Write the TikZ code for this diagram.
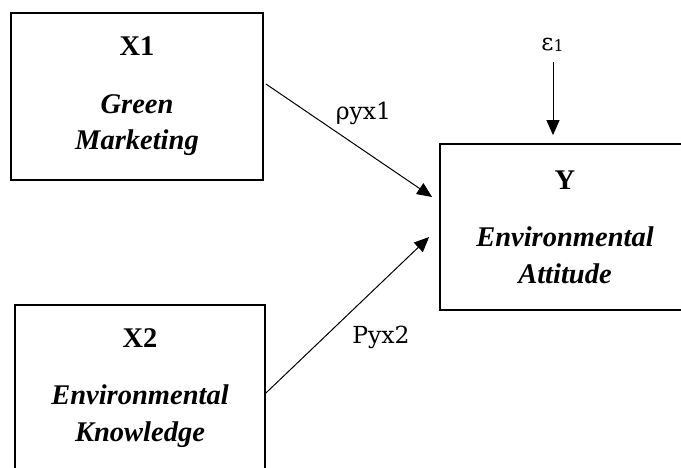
\documentclass[tikz,border=0pt]{standalone}
\usepackage{fontspec}
\setmainfont{Liberation Serif}
\newfontfamily\coeffont{DejaVu Serif}
\usepackage{tikz}
\usetikzlibrary{graphs,arrows.meta}

\begin{document}
\begin{tikzpicture}[x=1pt, y=-1pt,
		varbox/.style={rectangle, draw, line width=1.8pt, minimum width=250pt, minimum height=166pt, inner sep=0pt, align=center, font=\fontsize{28.5}{36.5}\selectfont\bfseries},
		coef/.style={anchor=base, font=\coeffont\fontsize{23.5}{27}\selectfont},
		every edge/.append style={line width=1pt},
		>={Triangle[length=15pt, width=13pt]}]
		\useasboundingbox (0,0) rectangle (681,467);
		\node (x_1) at (137,96.5) [varbox, minimum width=252pt, minimum height=167pt] {X1\\[20.8pt]\textit{Green}\\\textit{Marketing}};
		\node (x_2) at (140,388) [varbox] {X2\\[20.8pt]\textit{Environmental}\\\textit{Knowledge}};
		\node (y) at (565,227) [varbox] {Y\\[20.8pt]\textit{Environmental}\\\textit{Attitude}};
		\node (eps) at (552.5,50) [coef] {ε\raisebox{-1pt}{\fontsize{16}{16}\selectfont 1}};
		\node (rho_1) at (363.5,119) [coef] {ρyx1};
		\node (p_2) at (381,343) [coef] {Pyx2};
		
		\coordinate (x1_out) at ([xshift=2pt, yshift=12.5pt]x_1.east);
		\coordinate (x2_out) at ([yshift=-5pt]x_2.east);
		\coordinate (eps_out) at (553,62);
		\coordinate (y_in1) at ([xshift=-7pt, yshift=30pt]y.west);
		\coordinate (y_in2) at ([xshift=-10pt, yshift=-10pt]y.west);
		\coordinate (y_in3) at ([xshift=-12pt, yshift=8pt]y.north);
		
		\graph {
			(x1_out) -> (y_in1);
			(x2_out) -> (y_in2);
			(eps_out) -> (y_in3);
		};
	\end{tikzpicture}
\end{document}
